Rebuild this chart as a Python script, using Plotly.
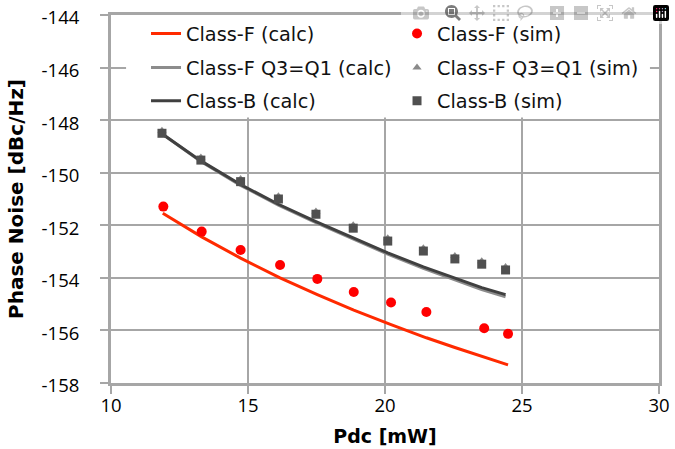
import plotly.graph_objects as go

# ---- data ----
pdc_f_sim = [11.91, 13.31, 14.73, 16.17, 17.53, 18.86, 20.22, 21.51, 23.62, 24.49]
pn_f_sim = [-151.29, -152.24, -152.94, -153.51, -154.04, -154.54, -154.94, -155.30, -155.92, -156.13]

pdc_f_calc = [11.89, 13.31, 14.73, 16.17, 17.53, 18.86, 20.22, 21.51, 22.55, 23.62, 24.49]
pn_f_calc = [-151.54, -152.44, -153.25, -154.00, -154.64, -155.23, -155.78, -156.28, -156.65, -157.02, -157.31]

pdc_b = [11.86, 13.28, 14.73, 16.11, 17.48, 18.84, 20.10, 21.40, 22.55, 23.53, 24.40]
pn_b_sim = [-148.50, -149.52, -150.34, -151.00, -151.58, -152.11, -152.60, -152.98, -153.28, -153.48, -153.70]
pn_b_calc = [-148.52, -149.55, -150.45, -151.20, -151.86, -152.48, -153.05, -153.58, -154.02, -154.37, -154.64]

pn_fq_sim = [-148.40, -149.42, -150.24, -150.90, -151.48, -152.00, -152.49, -152.87, -153.17, -153.37, -153.59]
pn_fq_calc = [-148.52, -149.57, -150.48, -151.23, -151.90, -152.53, -153.10, -153.64, -154.09, -154.45, -154.72]

x_ticks = [10, 15, 20, 25, 30]
y_ticks = [-158, -156, -154, -152, -150, -148, -146, -144]

names = ["Class-F (calc)", "Class-F (sim)", "Class-F Q3=Q1 (calc)",
         "Class-F Q3=Q1 (sim)", "Class-B (calc)", "Class-B (sim)"]

fig = go.Figure()

fig.add_trace(go.Scatter(x=pdc_f_calc, y=pn_f_calc, mode="lines", name=names[0],
                         line=dict(color="#ff2a00", width=3), legend="legend"))
fig.add_trace(go.Scatter(x=pdc_f_sim, y=pn_f_sim, mode="markers", name=names[1],
                         marker=dict(color="#ff0000", size=10, symbol="circle"), legend="legend"))
fig.add_trace(go.Scatter(x=pdc_b, y=pn_fq_calc, mode="lines", name=names[2],
                         line=dict(color="#8c8c8c", width=3), legend="legend2"))
fig.add_trace(go.Scatter(x=pdc_b, y=pn_fq_sim, mode="markers", name=names[3],
                         marker=dict(color="#8a8a8a", size=8, symbol="triangle-up"), legend="legend2"))
fig.add_trace(go.Scatter(x=pdc_b, y=pn_b_calc, mode="lines", name=names[4],
                         line=dict(color="#404040", width=3), legend="legend3"))
fig.add_trace(go.Scatter(x=pdc_b, y=pn_b_sim, mode="markers", name=names[5],
                         marker=dict(color="#505050", size=9, symbol="square"), legend="legend3"))

# white legend box covering the grid
fig.add_shape(type="rect", xref="x", yref="y", x0=10.55, x1=29.67, y0=-147.9, y1=-144,
              fillcolor="white", line=dict(width=0), layer="between")

leg_common = dict(orientation="h", x=0.0639, xanchor="left", yanchor="middle",
                  entrywidth=206, entrywidthmode="pixels",
                  bgcolor="rgba(0,0,0,0)", borderwidth=0,
                  font=dict(family="DejaVu Sans", size=19.3, color="#111111"))

axis_common = dict(showline=True, linecolor="#a6a6a6", linewidth=3, mirror=True,
                   showgrid=True, gridcolor="#a6a6a6", gridwidth=2, zeroline=False,
                   ticks="outside", ticklen=8, tickwidth=2, tickcolor="#a6a6a6",
                   automargin=False, ticklabeloverflow="allow",
                   tickfont=dict(family="Open Sans", size=18.5, color="#000000"))

fig.update_layout(
    width=675, height=449,
    margin=dict(l=111, r=16, t=15, b=66, autoexpand=False),
    paper_bgcolor="white", plot_bgcolor="white",
    showlegend=True,
    legend=dict(y=0.9484, **leg_common),
    legend2=dict(y=0.856, **leg_common),
    legend3=dict(y=0.766, **leg_common),
    xaxis=dict(range=[10, 30], tickvals=x_ticks, ticktext=[str(v) for v in x_ticks],
               ticklabelstandoff=-4,
               title=dict(text="Pdc [mW]", standoff=14,
                          font=dict(family="DejaVu Sans", size=19, color="#000000", weight="bold")),
               **axis_common),
    yaxis=dict(range=[-158, -144], tickvals=y_ticks, ticktext=[str(v) for v in y_ticks],
               ticklabelstandoff=17, ticklabelshift=3,
               title=dict(text="Phase Noise [dBc/Hz]", standoff=13,
                          font=dict(family="DejaVu Sans", size=20, color="#000000", weight="bold")),
               **axis_common),
)

# remove the default page margin so the figure fills the window exactly
fig.write_html("out.html", post_script="document.body.style.margin='0';")
